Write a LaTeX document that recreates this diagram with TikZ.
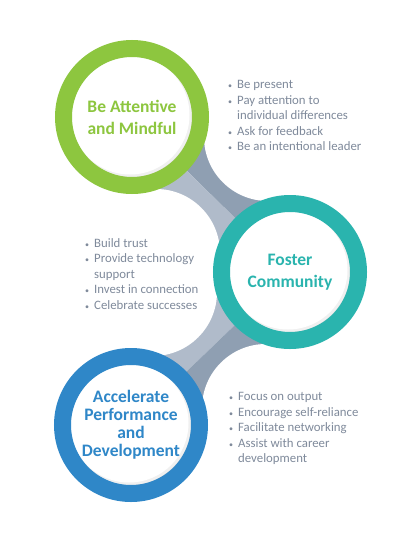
\documentclass[tikz,border=0pt]{standalone}
\usepackage{fontspec}
\setmainfont{Carlito}
\definecolor{cgreen}{HTML}{8DC63F}
\definecolor{cteal}{HTML}{2AB4AE}
\definecolor{cblue}{HTML}{2F87C8}
\definecolor{glight}{HTML}{B0BBCA}
\definecolor{gdark}{HTML}{8F9FB2}
\definecolor{btext}{HTML}{7F8A9B}
\newcommand\blt{\makebox[9pt][l]{\footnotesize\textbullet}}
\newcommand\bltskip{\hspace*{9pt}}
\begin{document}
\begin{tikzpicture}[x=1pt,y=-1pt,
  ring/.style={circle, draw=#1, line width=17pt, minimum size=137pt, inner sep=0pt,
    text=#1, align=center, font=\bfseries\fontsize{17.5}{22}\selectfont},
  bul/.style={anchor=north west, align=left, text=btext, inner sep=0pt,
    font=\fontsize{12.8}{15.6}\selectfont}
  ]
\useasboundingbox (0,0) rectangle (401,533);
\fill[white] (0,0) rectangle (401,533);
% centres
\coordinate (G) at (132,117);
\coordinate (T) at (290,272);
\coordinate (B) at (131,425);
\coordinate (W1) at (268,137);
\coordinate (W2) at (156,253);
\coordinate (W3) at (153,292);
\coordinate (W4) at (266,408);
% connectors
\fill[gdark] (G) -- (W1) -- (T) -- cycle;
\fill[glight] (G) -- (T) -- (W2) -- cycle;
\fill[glight] (T) -- (W3) -- (B) -- cycle;
\fill[gdark] (T) -- (B) -- (W4) -- cycle;
\foreach \w in {W1,W2,W3,W4} \fill[white] (\w) circle (64);
% inner shadows
\foreach \c in {G,T,B}{
  \fill[black!14] (\c) circle (62);
  \fill[black!6] ([shift={(-1,-1)}]\c) circle (61);
  \fill[white] ([shift={(-2,-2)}]\c) circle (59.5);
}
% rings
\node[ring=cgreen] (g) at (G) {Be Attentive\\and Mindful};
\node[ring=cteal] (t) at (T) {Foster\\Community};
\node[ring=cblue, font=\bfseries\fontsize{17.5}{18}\selectfont] (b) at (B) {Accelerate\\Performance\\and\\Development};
% bullet lists
\node[bul] (l1) at (228,80) {\blt Be present\\\blt Pay attention to\\\bltskip individual differences\\\blt Ask for feedback\\\blt Be an intentional leader};
\node[bul] (l2) at (85,238) {\blt Build trust\\\blt Provide technology\\\bltskip support\\\blt Invest in connection\\\blt Celebrate successes};
\node[bul] (l3) at (229,392) {\blt Focus on output\\\blt Encourage self-reliance\\\blt Facilitate networking\\\blt Assist with career\\\bltskip development};
\end{tikzpicture}
\end{document}
